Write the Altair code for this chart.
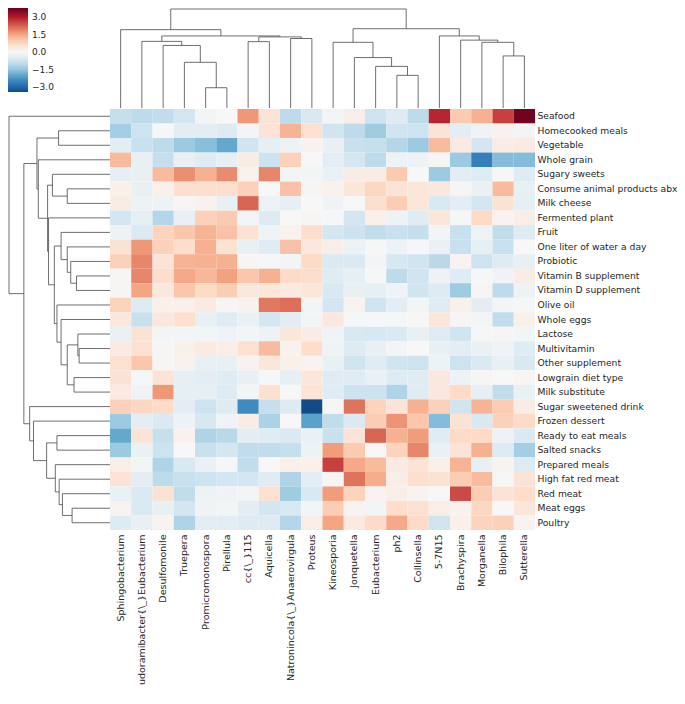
import altair as alt
import pandas as pd

# ---------------- data ----------------
cols = ["Sphingobacterium", "Pseudoramibacter{\\_}Eubacterium", "Desulfomonile", "Truepera",
        "Promicromonospora", "Pirellula", "cc{\\_}115", "Aquicella",
        "Natronincola{\\_}Anaerovirgula", "Proteus", "Kineosporia", "Jonquetella",
        "Eubacterium", "ph2", "Collinsella", "5-7N15", "Brachyspira", "Morganella",
        "Bilophila", "Sutterella"]

rows = ["Seafood", "Homecooked meals", "Vegetable", "Whole grain", "Sugary sweets",
        "Consume animal products abx", "Milk cheese", "Fermented plant", "Fruit",
        "One liter of water a day", "Probiotic", "Vitamin B supplement",
        "Vitamin D supplement", "Olive oil", "Whole eggs", "Lactose", "Multivitamin",
        "Other supplement", "Lowgrain diet type", "Milk substitute",
        "Sugar sweetened drink", "Frozen dessert", "Ready to eat meals", "Salted snacks",
        "Prepared meals", "High fat red meat", "Red meat", "Meat eggs", "Poultry"]

z = [
    [-0.9, -1.0, -0.95, -0.7, -0.1, 0.0, 1.65, 0.5, -1.0, -0.6, -0.1, 0.25, -0.8, -0.5, -1.0, 2.9, 1.0, 1.35, 2.6, 3.7],
    [-1.3, -0.8, -0.05, -0.4, -0.4, -0.5, -0.1, 0.5, 1.3, 0.6, -0.75, -1.0, -1.35, -0.75, -0.8, 0.5, -0.4, -0.15, 0.15, -0.1],
    [-0.4, -0.85, -1.0, -1.4, -1.6, -1.95, -0.75, -0.35, -0.2, 0.15, -0.3, -0.85, -0.9, -1.1, -1.4, 1.2, 0.35, -0.7, 0.3, 0.35],
    [1.2, -0.3, -0.9, -0.3, -0.45, -0.35, 0.3, -0.8, 0.9, 0.0, -0.4, -0.7, -1.0, -0.2, -0.2, 0.05, -1.4, -2.6, -1.65, -1.65],
    [-0.35, -0.3, 1.2, 1.75, 1.35, 1.8, 0.15, 1.85, -0.1, -0.1, -0.25, 0.3, 0.3, 1.0, 0.0, -1.4, -0.4, -0.45, 0.02, -0.45],
    [0.2, -0.3, 0.2, 0.65, 0.65, 0.65, 0.9, -0.02, 1.1, 0.05, 0.15, 0.45, 0.8, 0.5, 0.45, 0.4, 0.05, -0.25, 1.2, -0.3],
    [0.3, -0.2, -0.2, 0.05, 0.15, -0.3, 2.2, -0.2, -0.35, 0.0, -0.15, -0.02, 0.65, 0.95, 0.45, -0.6, -0.4, -0.7, 0.55, -0.35],
    [-0.7, -0.35, -1.1, -0.3, 0.9, 1.0, -0.1, -0.5, 0.0, 0.05, -0.05, -0.7, 0.2, -0.2, -0.45, 0.45, -0.05, 0.75, 0.1, 0.25],
    [-0.2, -0.55, 0.85, 1.05, 1.3, 1.1, 0.55, -0.15, 0.15, 0.7, -0.7, -0.8, -0.95, -0.85, -0.9, -0.1, -0.85, -0.2, -0.95, -0.5],
    [0.55, 1.65, 0.9, 0.7, 1.35, 0.55, -0.3, -0.45, 1.1, 0.4, 0.25, -0.2, 0.02, -0.2, -0.05, -0.25, -0.85, -0.35, -0.85, 0.0],
    [0.9, 1.85, 0.5, 1.3, 1.35, 1.35, 0.05, -0.05, -0.1, 0.75, -0.55, -0.55, -0.1, -0.65, -0.75, -1.05, 0.1, -0.8, -0.5, -0.3],
    [0.05, 1.85, 0.7, 1.45, 1.25, 1.55, 1.05, 1.35, 0.75, 0.7, -0.45, -0.35, -0.05, -1.0, -0.75, -0.2, -0.45, -0.05, -0.15, 0.3],
    [0.05, 1.5, 0.4, 1.05, 0.75, 0.95, 0.4, 0.45, 0.35, 0.45, -0.6, -0.3, -0.35, -0.15, -0.75, -0.5, -1.35, 0.05, -1.0, -0.2],
    [0.85, -0.5, 0.2, 0.2, 0.35, 0.05, 0.15, 2.0, 2.1, -0.1, -0.7, 0.1, -0.75, -0.4, -0.1, -0.45, 0.2, -0.4, -0.1, -0.05],
    [0.4, -0.85, 0.4, 0.6, -0.3, -0.45, -0.25, -0.7, -0.4, -0.1, 0.4, -0.05, -0.05, -0.05, 0.02, 0.45, 0.05, -0.1, -0.95, 0.2],
    [-0.25, 0.55, -0.1, -0.1, -0.1, -0.15, -0.1, -0.2, 0.45, 0.3, -0.15, -0.6, -0.65, -0.55, -0.3, -0.45, -0.75, 0.02, 0.05, -0.1],
    [0.35, 0.6, 0.05, 0.2, 0.35, 0.25, 0.6, 1.2, 0.15, 0.7, -0.15, -0.5, -0.3, -0.1, 0.0, -0.3, -0.4, -0.25, -0.15, -0.45],
    [0.6, 1.05, 0.05, 0.15, -0.3, -0.3, 0.15, 0.45, 0.2, 0.1, -0.3, -0.75, -0.45, -0.75, -0.8, -0.2, -0.8, -0.55, -0.3, -0.6],
    [0.55, -0.05, 0.5, -0.35, -0.4, -0.45, -0.3, -0.05, -0.35, 0.45, -0.45, -0.45, -0.25, -0.5, -0.45, 0.4, -0.2, 0.05, 0.0, 0.05],
    [0.35, -0.15, 1.65, -0.35, -0.35, -0.5, -0.1, 0.6, 0.0, 0.5, -0.45, -0.8, -0.8, -1.15, -0.45, 0.4, 0.75, -0.35, -0.95, -0.25],
    [0.9, 0.8, 0.75, -0.4, -0.8, -0.5, -2.4, -0.9, -0.5, -3.4, 0.05, 2.05, 0.85, 0.5, 1.35, 0.9, -0.75, 1.3, 0.95, 0.3],
    [-1.4, -0.4, -0.55, -0.2, -0.65, -0.15, 0.3, -1.2, 0.0, -2.05, -0.95, -0.55, 0.95, 1.7, 1.05, -1.65, 0.55, -0.6, 0.9, 0.75],
    [-1.95, 0.5, -0.9, 0.15, -1.15, -1.05, -0.4, -0.45, -0.55, -0.25, -0.85, 0.5, 2.2, 1.35, 1.6, -0.45, 0.75, 0.75, -0.2, -0.55],
    [-1.4, -0.25, -0.8, 0.0, -0.85, -0.7, -0.95, -0.95, -0.9, -0.2, 1.6, 1.0, 0.0, 0.85, 1.85, -0.25, 0.5, 1.35, -0.5, -1.3],
    [0.25, -0.1, -1.15, -0.6, -0.25, -0.05, -0.95, 0.0, 0.2, 0.2, 2.6, 1.45, 1.2, 0.35, 0.5, 0.2, 1.3, -0.3, 0.1, -0.5],
    [0.5, -0.4, -1.0, -0.85, -0.8, -0.7, -0.7, -0.45, -1.15, -0.4, 0.05, 2.05, 1.4, 0.25, 0.65, 0.55, 0.95, 1.2, 0.02, 0.5],
    [-0.25, -0.55, 0.55, -0.95, -0.2, -0.15, -0.1, 0.6, -1.35, -0.6, 1.6, 0.85, 0.1, 0.25, 0.1, 0.0, 2.5, 0.95, 0.5, 0.7],
    [0.1, -0.55, -0.3, -0.7, -0.15, -0.1, -0.4, -0.7, -0.6, -0.1, 0.95, 0.1, -0.1, 0.7, 0.6, 0.25, 0.15, 0.8, 0.0, 0.45],
    [-0.5, -0.3, 0.1, -1.15, -0.4, -0.4, -0.5, -0.5, -1.1, 0.25, 1.5, 0.35, 0.75, 1.45, 0.75, -0.75, 0.2, 0.85, 0.9, 0.1],
]

# dendrograms as nested [height, left, right]; ints are leaf indices
col_tree = [104,
            [82.3, 0,
             [75.7,
              [70, 1, [65.7, 2, [48, 3, [21.3, 4, 5]]]],
              [74.7, [69.7, 6, 7], [73, 8, 9]]]],
            [83.3,
             [69, 10, [53, 11, [43.7, 12, [34.3, 13, 14]]]],
             [75.7, 15, [71.3, 16, [69, 17, [54.7, 18, 19]]]]]]

row_tree = [104.7, 0,
            [89.3,
             [75.7,
              [53.3, 1, 2],
              [74.3, 3,
               [64.7,
                [59.7, 4, [44.3, 5, 6]],
                [63.7, 7,
                 [57.7,
                  [50.7, 8, [44.3, 9, [40.7, 10, [34.7, 11, 12]]]],
                  [55, 13, [50.7, 14, [44.3, [33.3, 15, [32, 16, 17]], [37.3, 18, 19]]]]]]]]],
             [83.3, 20,
              [79.3, 21,
               [65.7, [55, 22, 23],
                [56.7, 24, [52.7, 25, [49.3, 26, [39.3, 27, 28]]]]]]]]]

cbar_ticks = [3.0, 1.5, 0.0, -1.5, -3.0]

# RdBu_r colormap stops (centred at 0, clipped at the data minimum)
cmap_domain = [-3.43, -3.024, -2.268, -1.512, -0.756, 0.0, 0.756, 1.512, 2.268, 3.024, 3.78]
cmap_range = ["#124984", "#2166ac", "#4393c3", "#92c5de", "#d1e5f0", "#f7f7f7",
              "#fddbc7", "#f4a582", "#d6604d", "#b2182b", "#67001f"]

# ---------------- tables ----------------
heat_df = pd.DataFrame([
    {"row": r, "col": c, "value": z[i][j]}
    for i, r in enumerate(rows) for j, c in enumerate(cols)
])


def tree_segments(tree):
    out = []

    def walk(n):
        if isinstance(n, int):
            return n + 0.5, 0.0
        h, a, b = n
        pa, ha = walk(a)
        pb, hb = walk(b)
        out.append({"p1": pa, "p2": pa, "h1": ha, "h2": h})
        out.append({"p1": pa, "p2": pb, "h1": h, "h2": h})
        out.append({"p1": pb, "p2": pb, "h1": hb, "h2": h})
        return (pa + pb) / 2.0, h

    walk(tree)
    return pd.DataFrame(out)


top_df = tree_segments(col_tree)
left_df = tree_segments(row_tree)

# ---------------- layout ----------------
W, H = 527, 522      # view = up to heatmap right / bottom edge
HX0, HY0 = 102, 101  # heatmap left / top edge
FONT = "DejaVu Sans"
TXT = "#262626"
LINE = "#4a4a4a"

heat = alt.Chart(heat_df).mark_rect().encode(
    x=alt.X("col:N", sort=cols,
            scale=alt.Scale(domain=cols, range=[HX0, W], paddingInner=0, paddingOuter=0),
            axis=alt.Axis(orient="bottom", title=None, labelAngle=270, domain=False,
                          ticks=False, labelPadding=4, labelFontSize=9.5, labelFont=FONT,
                          labelColor=TXT, labelLimit=400, labelOverlap=False)),
    y=alt.Y("row:N", sort=rows,
            scale=alt.Scale(domain=rows, range=[HY0, H], paddingInner=0, paddingOuter=0),
            axis=alt.Axis(orient="right", title=None, domain=False, ticks=False,
                          labelPadding=2, labelFontSize=9.2, labelFont=FONT,
                          labelColor=TXT, labelLimit=400, labelOverlap=False)),
    color=alt.Color("value:Q",
                    scale=alt.Scale(domain=cmap_domain, range=cmap_range, interpolate="rgb"),
                    legend=alt.Legend(orient="none", legendX=0, legendY=0, type="gradient",
                                      direction="vertical", title=None,
                                      gradientLength=84, gradientThickness=20,
                                      gradientStrokeWidth=0, values=cbar_ticks,
                                      format=".1f", labelFontSize=9, labelFont=FONT,
                                      labelColor=TXT, labelOffset=4, padding=0,
                                      labelOverlap=False)),
)

top = alt.Chart(top_df).mark_rule(color=LINE, strokeWidth=0.8).encode(
    x=alt.X("p1:Q", scale=alt.Scale(domain=[0, len(cols)], range=[HX0, W], nice=False, zero=False), axis=None),
    x2="p2:Q",
    y=alt.Y("h1:Q", scale=alt.Scale(domain=[0, 104], range=[HY0 - 1, 1], nice=False, zero=False), axis=None),
    y2="h2:Q",
)

left = alt.Chart(left_df).mark_rule(color=LINE, strokeWidth=0.8).encode(
    y=alt.Y("p1:Q", scale=alt.Scale(domain=[0, len(rows)], range=[HY0, H], nice=False, zero=False), axis=None),
    y2="p2:Q",
    x=alt.X("h1:Q", scale=alt.Scale(domain=[0, 104.7], range=[HX0, 1], nice=False, zero=False), axis=None),
    x2="h2:Q",
)

chart = alt.layer(heat, top, left).resolve_scale(
    x="independent", y="independent"
).properties(
    width=W, height=H,
    autosize=alt.AutoSizeParams(type="none"),
    padding={"left": 0, "top": 0, "right": 142, "bottom": 155},
    view=alt.ViewBackground(stroke="transparent", strokeWidth=0, strokeOpacity=0),
).configure_view(stroke="transparent", strokeWidth=0, strokeOpacity=0).configure(font=FONT)

chart.save("out.html", embed_options={"renderer": "svg", "actions": False})
